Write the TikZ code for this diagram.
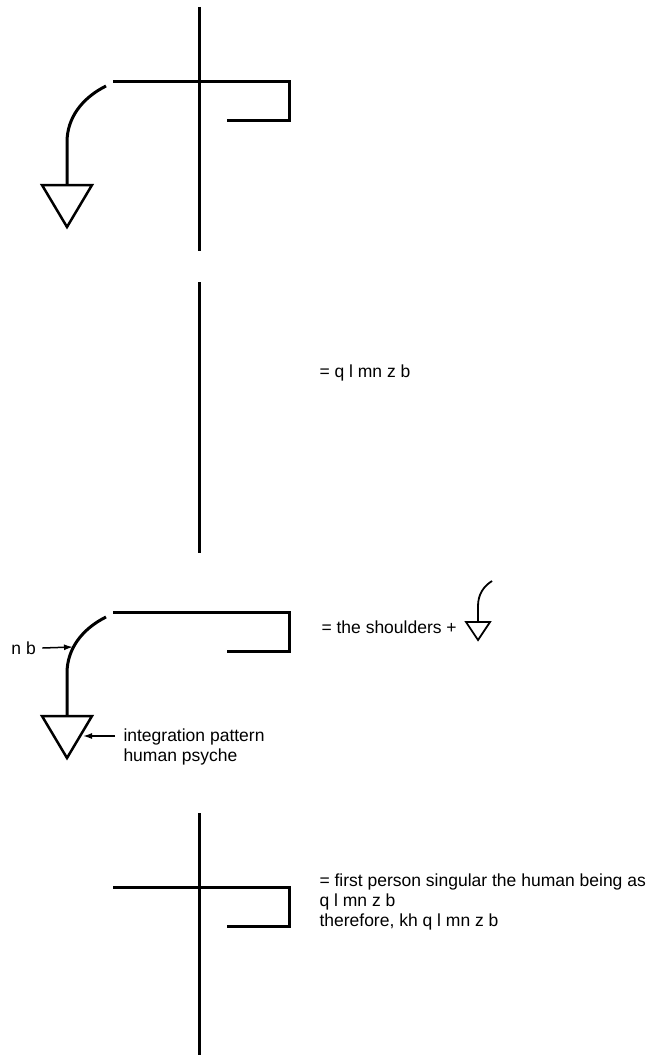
\documentclass[tikz,border=0pt]{standalone}
\usepackage{fontspec}
\setmainfont{Liberation Sans}
\usetikzlibrary{calc,arrows,arrows.meta}

\begin{document}
\begin{tikzpicture}[x=1pt,y=-1pt,line width=3pt,
    txt/.style={anchor=west,inner sep=0pt,align=left,
        font=\fontsize{17.5}{20}\selectfont},
    pointer/.style={line width=1.5pt,-{Latex[length=9pt,width=6pt]}}]
        \useasboundingbox (0,0) rectangle (654,1057);
        % vertical strokes
        \foreach \a/\b in {7/251, 282/553, 813/1055}
        \draw (199,\a) -- (199,\b);
        % bracket
        \foreach \y in {0, 531, 806}
        \draw[shift={(0,\y)},miter limit=10] (113,81) -- (289,81) -- (289,120) -- (227,120);
        % hook with triangle
        \foreach \y in {0, 531}
        \draw[shift={(0,\y)}] (106,86) .. controls (82,98) and (67,118) .. (67,142) -- (67,185);
        \foreach \y in {0, 531}
        \draw[shift={(0,\y)},line width=2.5pt,line join=miter] (42,185) -- (92,185) -- (67,227) -- cycle;
        % texts
        \node[txt] (eq1) at (318,373) {= q l mn z b};
        \node[txt] (eq2) at (320,627) {= the shoulders +};
        \node[txt] (eq3) at (318,902) {= first person singular the human being as\\q l mn z b\\therefore, kh q l mn z b};
        \node[txt] (nb) at (10,648) {n b};
        \node[txt] (ip) at (122,747) {integration pattern\\human psyche};
        % small sign
        \draw[line width=1.8pt] (478,622) -- (478,606) .. controls (478,594) and (484,586) .. (492,581);
        \draw[line width=1.8pt,line join=miter] (466,622) -- (490,622) -- (478,640) -- cycle;
        % pointers
        \coordinate (nbtip) at (73,647);
        \coordinate (iptip) at (83,736);
        \draw[pointer] (nb.east) ++(5pt,0) -- (nbtip);
        \draw[pointer] (115,736) -- (iptip);
    \end{tikzpicture}
\end{document}
